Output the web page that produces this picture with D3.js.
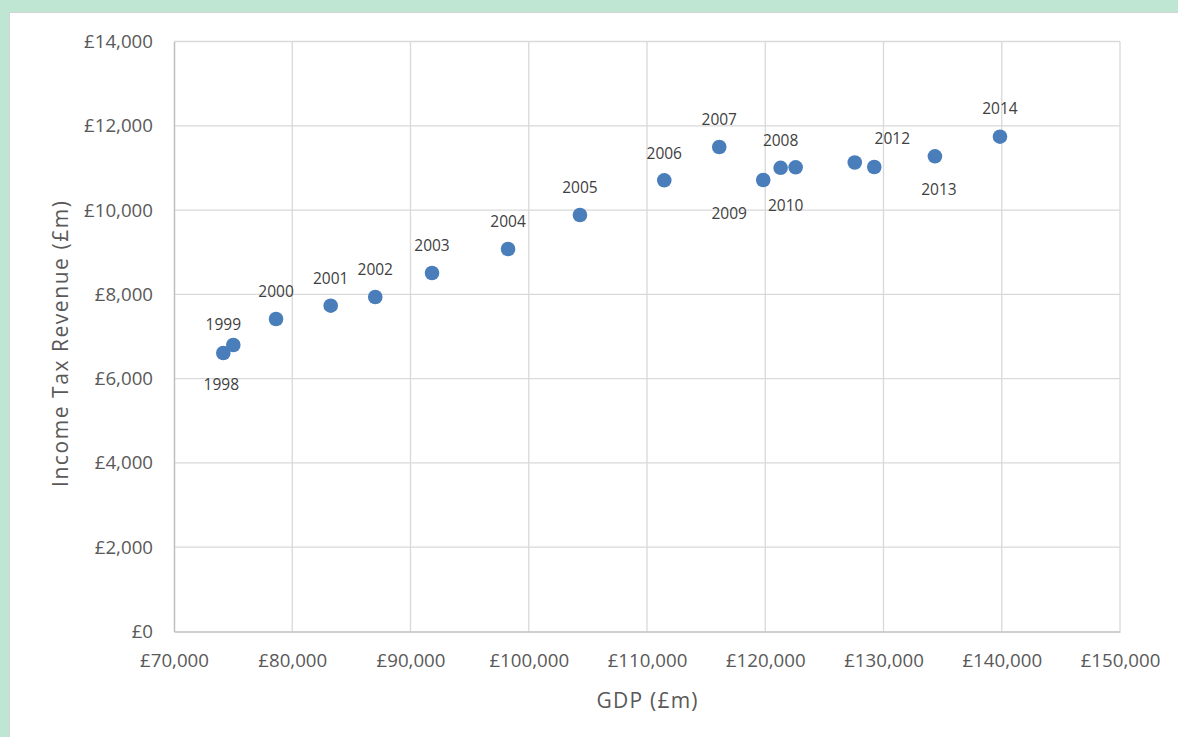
<!DOCTYPE html>
<html>
<head>
<meta charset="utf-8">
<script src="https://cdn.jsdelivr.net/npm/d3@7"></script>
<style>
  body { margin: 0; background: #fff; }
  svg { display: block; font-family: "Open Sans", sans-serif; }
</style>
</head>
<body>
<svg id="chart"></svg>
<script>
// data
const years = [1998, 1999, 2000, 2001, 2002, 2003, 2004, 2005, 2006, 2007, 2008, 2009, 2010, 2011, 2012, 2013, 2014];
const gdp = [74170, 75015, 78630, 83250, 87020, 91820, 98250, 104330, 111460, 116110, 121300, 119830, 122570, 127570, 129220, 134350, 139850];
const incomeTax = [6608, 6798, 7415, 7731, 7937, 8506, 9076, 9883, 10706, 11497, 11003, 10714, 11015, 11129, 11022, 11276, 11741];
const xTicks = [70000, 80000, 90000, 100000, 110000, 120000, 130000, 140000, 150000];
const yTicks = [0, 2000, 4000, 6000, 8000, 10000, 12000, 14000];

// label placement (px offset of label centre from its point), 2011 has no label
const labelPos = {
  1998: [-2, 31], 1999: [-10, -21], 2000: [0, -28], 2001: [0, -28], 2002: [0, -28],
  2003: [0, -28], 2004: [0, -28], 2005: [0, -28], 2006: [0, -27], 2007: [0, -28],
  2008: [0, -28], 2009: [-34, 33], 2010: [-10, 38], 2012: [18, -29], 2013: [4, 33],
  2014: [0, -29]
};

const width = 1178, height = 737;
const margin = { top: 41.5, right: 58, bottom: 105.5, left: 174 };

const svg = d3.select('#chart').attr('width', width).attr('height', height);

// green frame + white panel
svg.append('rect').attr('width', width).attr('height', height).attr('fill', '#bfe6d2');
svg.append('rect')
  .attr('x', 9.5).attr('y', 12.5)
  .attr('width', width).attr('height', height)
  .attr('fill', '#fff').attr('stroke', '#d4d4d4');

const x = d3.scaleLinear().domain([70000, 150000]).range([margin.left, width - margin.right]);
const y = d3.scaleLinear().domain([0, 14000]).range([height - margin.bottom, margin.top]);

const fmt = d => '£' + d3.format(',')(d);

// gridlines
svg.append('g')
  .selectAll('line')
  .data(xTicks.slice(1))
  .join('line')
  .attr('x1', d => x(d)).attr('x2', d => x(d))
  .attr('y1', y(0)).attr('y2', y(14000))
  .attr('stroke', '#d9d9d9').attr('stroke-width', 1.3);

svg.append('g')
  .selectAll('line')
  .data(yTicks.slice(1))
  .join('line')
  .attr('x1', x(70000)).attr('x2', x(150000))
  .attr('y1', d => y(d)).attr('y2', d => y(d))
  .attr('stroke', '#d9d9d9').attr('stroke-width', 1.3);

// axes
const xAxis = svg.append('g')
  .attr('transform', `translate(0,${y(0)})`)
  .call(d3.axisBottom(x).tickValues(xTicks).tickFormat(fmt).tickSize(0).tickPadding(22));
const yAxis = svg.append('g')
  .attr('transform', `translate(${x(70000)},0)`)
  .call(d3.axisLeft(y).tickValues(yTicks).tickFormat(fmt).tickSize(0).tickPadding(21));

[xAxis, yAxis].forEach(g => {
  g.select('.domain').attr('stroke', '#bfbfbf').attr('stroke-width', 1.5);
  g.selectAll('text').attr('fill', '#595959').attr('font-size', '18.7px')
    .attr('font-family', '"Open Sans", sans-serif');
});

// axis titles
svg.append('text')
  .attr('x', 647).attr('y', 700)
  .attr('text-anchor', 'middle').attr('dominant-baseline', 'central')
  .attr('fill', '#595959').attr('font-size', '21px')
  .attr('textLength', 101).attr('lengthAdjust', 'spacing')
  .text('GDP (£m)');

svg.append('text')
  .attr('transform', 'translate(60,344) rotate(-90)')
  .attr('text-anchor', 'middle').attr('dominant-baseline', 'central')
  .attr('fill', '#595959').attr('font-size', '21px')
  .attr('textLength', 286).attr('lengthAdjust', 'spacing')
  .text('Income Tax Revenue (£m)');

// points
const points = years.map((yr, i) => ({ year: yr, gdp: gdp[i], tax: incomeTax[i] }));

svg.append('g')
  .selectAll('circle')
  .data(points)
  .join('circle')
  .attr('cx', d => x(d.gdp))
  .attr('cy', d => y(d.tax))
  .attr('r', 7.3)
  .attr('fill', '#4a7ebb');

// data labels
svg.append('g')
  .selectAll('text')
  .data(points.filter(d => labelPos[d.year]))
  .join('text')
  .attr('x', d => x(d.gdp) + labelPos[d.year][0])
  .attr('y', d => y(d.tax) + labelPos[d.year][1])
  .attr('text-anchor', 'middle')
  .attr('dominant-baseline', 'central')
  .attr('fill', '#404040')
  .attr('font-size', '15.5px')
  .text(d => d.year);
</script>
</body>
</html>
